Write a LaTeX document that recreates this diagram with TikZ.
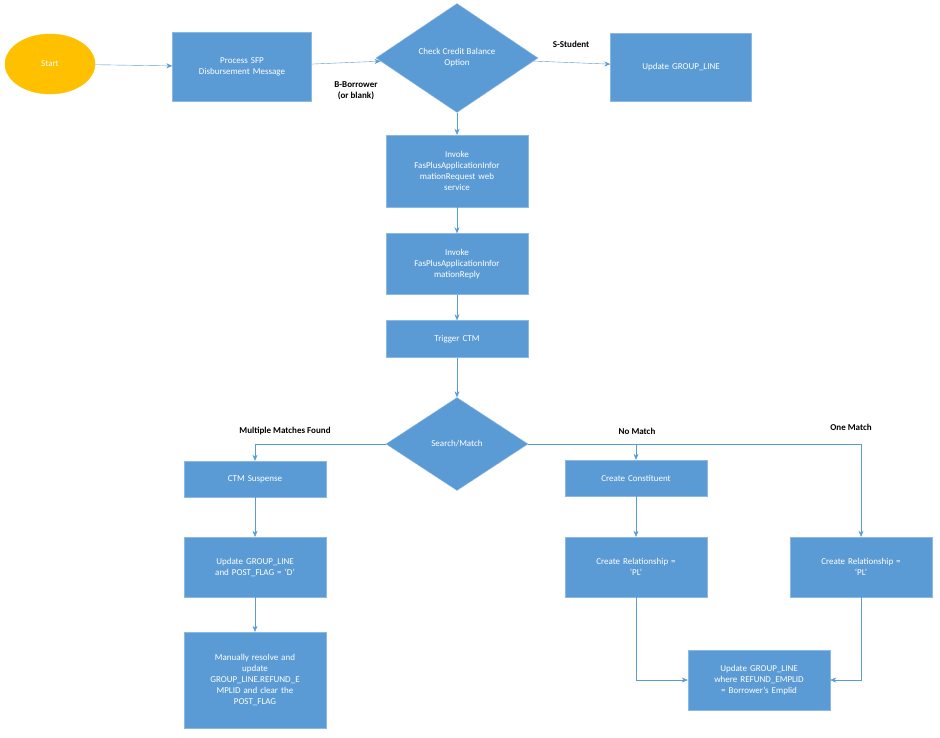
\documentclass[tikz,border=0pt]{standalone}
\usepackage{fontspec}
\setmainfont{Carlito}
\usetikzlibrary{shapes.geometric,arrows.meta}
\definecolor{boxblue}{HTML}{5B9BD5}
\definecolor{boxedge}{HTML}{8CB8E2}
\definecolor{startfill}{HTML}{FFC000}
\definecolor{arrowcol}{HTML}{5B9BD5}
\tikzset{
  proc/.style={draw=boxedge,fill=boxblue,text=white,font=\small,align=center,
    minimum width=142pt,text width=130pt,inner sep=2pt},
  choice/.style={diamond,draw=boxedge,fill=boxblue,text=white,font=\small,align=center,
    aspect=1.4,inner sep=1pt},
  lbl/.style={font=\small\bfseries,align=center},
  flow/.style={draw=arrowcol,-{Stealth[length=6pt,width=5pt]}}
}
\begin{document}
\begin{tikzpicture}[x=1pt,y=-1pt]
\useasboundingbox (0,0) rectangle (940,737);

% Nodes
\node[ellipse,draw=startfill,fill=startfill,text=white,font=\small,minimum width=90pt,minimum height=60pt] (start) at (50,64) {Start};
\node[proc,minimum width=139pt,text width=128pt,minimum height=69pt] (process) at (242,67) {Process SFP\\Disbursement Message};
\node[choice,minimum width=162pt,minimum height=109pt] (credit) at (457,58) {Check Credit Balance\\Option};
\node[proc,minimum width=141pt,minimum height=68pt] (updtop) at (681,67) {Update GROUP\_LINE};
\node[proc,minimum height=72pt] (invreq) at (457,171) {Invoke\\FasPlusApplicationInfor\\mationRequest web\\service};
\node[proc,minimum height=61pt] (invrep) at (457,264) {Invoke\\FasPlusApplicationInfor\\mationReply};
\node[proc,minimum height=37pt] (ctm) at (457,339) {Trigger CTM};
\node[choice,minimum width=142pt,minimum height=93pt] (search) at (457,444) {Search/Match};
\node[proc,minimum height=36pt] (suspense) at (255,479) {CTM Suspense};
\node[proc,minimum height=60pt] (postflag) at (255,567) {Update GROUP\_LINE\\and POST\_FLAG = ‘D’};
\node[proc,minimum height=96pt] (manual) at (255,680) {Manually resolve and\\update\\GROUP\_LINE.REFUND\_E\\MPLID and clear the\\POST\_FLAG};
\node[proc,minimum height=36pt] (constit) at (636,478) {Create Constituent};
\node[proc,minimum height=60pt] (relmid) at (636,567) {Create Relationship =\\‘PL’};
\node[proc,minimum height=60pt] (relright) at (861,567) {Create Relationship =\\‘PL’};
\node[proc,minimum height=60pt] (updbot) at (759,680) {Update GROUP\_LINE\\where REFUND\_EMPLID\\= Borrower’s Emplid};

% Labels
\node[lbl] (sstud) at (571,44) {S-Student};
\node[lbl] (borrow) at (356,91) {B-Borrower\\(or blank)};
\node[lbl] (multi) at (285,431) {Multiple Matches Found};
\node[lbl] (nomatch) at (637,431) {No Match};
\node[lbl] (onematch) at (851,427) {One Match};

% Connectors
\draw[flow] (start) -- (process);
\draw[flow] (process) -- (credit);
\draw[flow] (credit) -- (updtop);
\draw[flow] (credit) -- (invreq);
\draw[flow] (invreq) -- (invrep);
\draw[flow] (invrep) -- (ctm);
\draw[flow] (ctm) -- (search);
\draw[flow] (search.west) -| (suspense);
\draw[flow] (search.east) -| (constit);
\draw[flow] (search.east) -| (relright);
\draw[flow] (suspense) -- (postflag);
\draw[flow] (postflag) -- (manual);
\draw[flow] (constit) -- (relmid);
\draw[flow] (relmid.south) |- (updbot.west);
\draw[flow] (relright.south) |- (updbot.east);
\end{tikzpicture}
\end{document}
